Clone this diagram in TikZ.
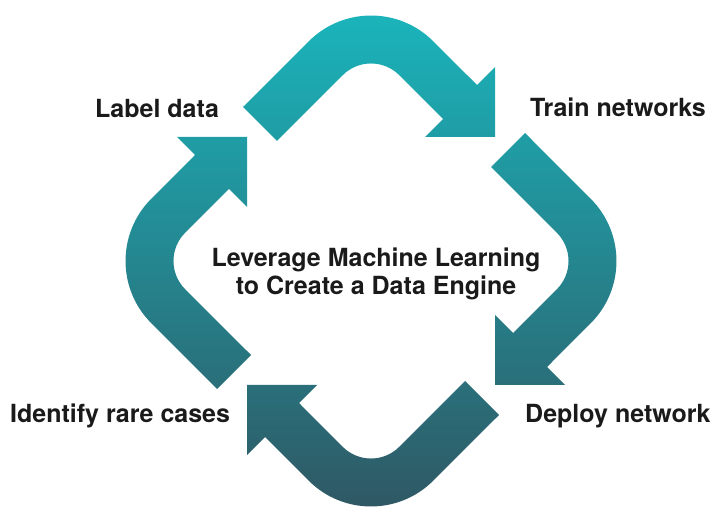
\documentclass[tikz,border=0pt]{standalone}
\usepackage{fontspec}
\setmainfont{TeX Gyre Heros}
\definecolor{tealtop}{RGB}{26,181,188}
\definecolor{slatebottom}{RGB}{47,87,99}
\definecolor{ink}{RGB}{26,26,26}
\tikzstyle{cycle arrows} = [top color = tealtop, bottom color = slatebottom]
\tikzstyle{step label} = [font = \fontsize{25}{28}\selectfont\bfseries, text = ink, inner sep = 0]
\tikzstyle{engine picture} = [x = 1pt, y = 1pt]

\begin{document}
\begin{tikzpicture}[engine picture]
    \useasboundingbox (0, 0) rectangle (712, 506);
    \begin{scope}[shift = {(371, 245)}]
        \shade [cycle arrows]
        \foreach \turn in {0, -90, -180, -270}
        {
            [rotate = \turn]
            (-128, 154) -- (-62.2, 219.7) arc [start angle = 135, end angle = 45, radius = 88]
            -- (106, 176) -- (124, 194) -- (124, 124) -- (54, 124) -- (72, 142)
            -- (28.3, 185.8) arc [start angle = 45, end angle = 135, radius = 40]
            -- (-94, 120) -- cycle
        };
    \end{scope}
    \node [step label, anchor = base west] (label) at (95, 388) {Label data};
    \node [step label, anchor = base west] (train) at (530, 389) {Train networks};
    \node [step label, anchor = base west] (deploy) at (525, 83) {Deploy network};
    \node [step label, anchor = base west] (identify) at (10, 83) {Identify rare cases};
    \node [step label, align = center, anchor = base] (engine) at (376, 211)
        {Leverage Machine Learning\\to Create a Data Engine};
\end{tikzpicture}
\end{document}
